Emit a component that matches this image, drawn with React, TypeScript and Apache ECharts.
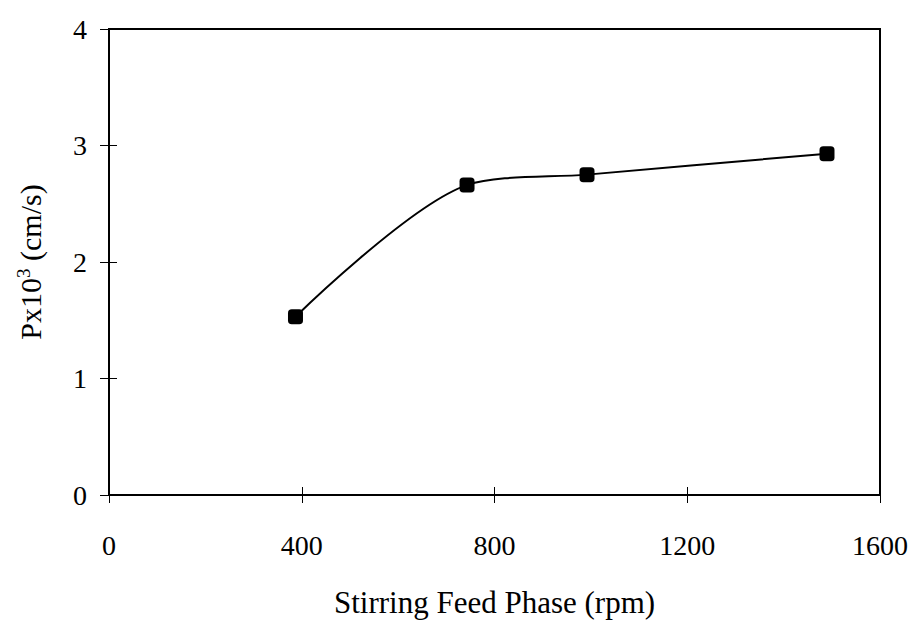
import React, { useEffect, useRef } from "react";
import * as echarts from "echarts";

const rpm = [387, 743, 992, 1490];
const permeability = [1.53, 2.66, 2.75, 2.93];
const xTicks = [0, 400, 800, 1200, 1600];
const yTicks = [0, 1, 2, 3, 4];

const FONT = "'Liberation Serif', 'Times New Roman', serif";

export default function App() {
  const ref = useRef<HTMLDivElement>(null);
  useEffect(() => {
    if (!ref.current) return;
    const chart = echarts.init(ref.current, undefined, { renderer: "svg" });
    const axisBase = {
      axisLine: { show: true, lineStyle: { color: "#000", width: 2 } },
      splitLine: { show: false },
    };
    chart.setOption({
      animation: false,
      backgroundColor: "#fff",
      grid: {
        left: 109,
        right: 36,
        top: 29,
        bottom: 127,
        show: true,
        borderColor: "#000",
        borderWidth: 2,
      },
      xAxis: [
        {
          ...axisBase,
          type: "value",
          min: xTicks[0],
          max: xTicks[xTicks.length - 1],
          interval: 400,
          axisTick: { show: true, inside: false, length: 8, lineStyle: { color: "#000", width: 1 } },
          axisLabel: {
            margin: 36,
            color: "#000",
            fontFamily: FONT,
            fontSize: 28,
            formatter: (v: number) => String(v),
          },
          name: "Stirring Feed Phase (rpm)",
          nameLocation: "middle",
          nameGap: 92,
          nameTextStyle: { color: "#000", fontFamily: FONT, fontSize: 31 },
        },
        {
          ...axisBase,
          type: "value",
          position: "bottom",
          min: xTicks[0],
          max: xTicks[xTicks.length - 1],
          interval: 400,
          axisTick: { show: true, inside: true, length: 8, lineStyle: { color: "#000", width: 1 } },
          axisLabel: { show: false },
        },
      ],
      yAxis: [
        {
          ...axisBase,
          type: "value",
          min: yTicks[0],
          max: yTicks[yTicks.length - 1],
          interval: 1,
          axisTick: { show: true, inside: false, length: 9, lineStyle: { color: "#000", width: 1 } },
          axisLabel: {
            margin: 22,
            color: "#000",
            fontFamily: FONT,
            fontSize: 28,
          },
          name: "{a|Px10}{s|3}{a| (cm/s)}",
          nameLocation: "middle",
          nameGap: 62,
          nameRotate: 90,
          nameTextStyle: {
            color: "#000",
            fontFamily: FONT,
            fontSize: 30,
            rich: {
              a: { fontFamily: FONT, fontSize: 30, color: "#000" },
              s: { fontFamily: FONT, fontSize: 19, color: "#000", verticalAlign: "top", padding: [0, 0, 14, 0] },
            },
          },
        },
        {
          ...axisBase,
          type: "value",
          position: "left",
          min: yTicks[0],
          max: yTicks[yTicks.length - 1],
          interval: 1,
          axisTick: { show: true, inside: true, length: 8, lineStyle: { color: "#000", width: 1 } },
          axisLabel: { show: false },
        },
      ],
      series: [
        {
          type: "line",
          data: rpm.map((x, i) => [x, permeability[i]]),
          smooth: 0.3,
          symbol: "roundRect",
          symbolSize: 15,
          itemStyle: { color: "#000" },
          lineStyle: { color: "#000", width: 2 },
        },
      ],
    });
    return () => chart.dispose();
  }, []);
  return (
    <div
      ref={ref}
      style={{ position: "absolute", left: 0, top: 0, width: 916, height: 623 }}
    />
  );
}
